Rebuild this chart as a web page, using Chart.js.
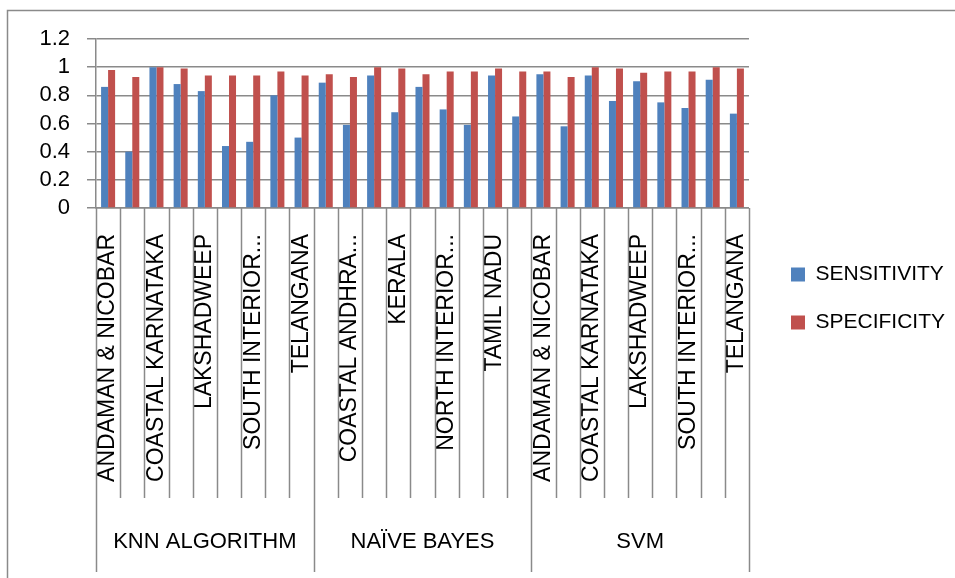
<!DOCTYPE html>
<html>
<head>
<meta charset="utf-8">
<script src="https://cdn.jsdelivr.net/npm/chart.js@4/dist/chart.umd.min.js"></script>
<style>
  html, body { margin: 0; padding: 0; background: #fff; }
  #wrap { width: 955px; height: 578px; position: relative; }
</style>
</head>
<body>
<div id="wrap"><canvas id="chart"></canvas></div>
<script>
// ── Data ────────────────────────────────────────────────────
const algorithms = ['KNN ALGORITHM', 'NAÏVE BAYES', 'SVM'];
const regions = [
    'ANDAMAN & NICOBAR', 'COASTAL ANDHRA PRADESH', 'COASTAL KARNATAKA',
    'KERALA', 'LAKSHADWEEP', 'NORTH INTERIOR KARNATAKA',
    'SOUTH INTERIOR KARNATAKA', 'TAMIL NADU', 'TELANGANA'
];
const sensitivity = [
    0.86, 0.40, 1.00, 0.88, 0.83, 0.44, 0.47, 0.80, 0.50,
    0.89, 0.59, 0.94, 0.68, 0.86, 0.70, 0.59, 0.94, 0.65,
    0.95, 0.58, 0.94, 0.76, 0.90, 0.75, 0.71, 0.91, 0.67
];
const specificity = [
    0.98, 0.93, 1.00, 0.99, 0.94, 0.94, 0.94, 0.97, 0.94,
    0.95, 0.93, 1.00, 0.99, 0.95, 0.97, 0.97, 0.99, 0.97,
    0.97, 0.93, 1.00, 0.99, 0.96, 0.97, 0.97, 1.00, 0.99
];
const yTicks = { min: 0, max: 1.2, step: 0.2 };

const FONT = '"Liberation Sans", Arial, sans-serif';
const GRID = '#8a8a8a';
const GRID_W = 1.5;

// one category per (algorithm, region)
const labels = [];
algorithms.forEach(() => regions.forEach(r => labels.push(r)));

// Excel cuts long labels short
function shortLabel(s) {
    return s.length > 17 ? s.slice(0, 14) + '...' : s;
}

// ── Frame + two-level category axis ─────────────────────────
const multiLevelAxis = {
    id: 'multiLevelAxis',
    afterLayout(chart) {
        // nudge the legend to where Excel puts it, plot area stays put
        const lg = chart.legend;
        if (!lg) return;
        lg.left += 15; lg.right += 15;
        lg.top -= 10; lg.bottom -= 10;
    },
    beforeDraw(chart) {
        const { ctx, width, height } = chart;
        ctx.save();
        ctx.strokeStyle = GRID;
        ctx.lineWidth = GRID_W;
        ctx.beginPath();
        ctx.moveTo(7.5, height);
        ctx.lineTo(7.5, 10.5);
        ctx.lineTo(width, 10.5);
        ctx.stroke();
        ctx.restore();
    },
    afterDraw(chart) {
        const { ctx } = chart;
        const xs = chart.scales.x;
        const n = labels.length;
        const half = (xs.getPixelForValue(1) - xs.getPixelForValue(0)) / 2;
        const catBottom = xs.top + 290;
        const groupBottom = xs.top + 364;

        ctx.save();
        ctx.strokeStyle = GRID;
        ctx.lineWidth = GRID_W;
        for (let i = 0; i <= n; i++) {
            const x = Math.round(i < n ? xs.getPixelForValue(i) - half : xs.getPixelForValue(n - 1) + half) + 0.5;
            ctx.beginPath();
            ctx.moveTo(x, xs.top);
            ctx.lineTo(x, i % regions.length === 0 ? groupBottom : catBottom);
            ctx.stroke();
        }

        ctx.fillStyle = '#000';
        ctx.font = '22px ' + FONT;
        ctx.textAlign = 'center';
        ctx.textBaseline = 'middle';
        algorithms.forEach((name, g) => {
            const a = xs.getPixelForValue(g * regions.length) - half;
            const b = xs.getPixelForValue((g + 1) * regions.length - 1) + half;
            ctx.fillText(name, (a + b) / 2, xs.top + 334);
        });
        ctx.restore();
    }
};

new Chart(document.getElementById('chart'), {
    type: 'bar',
    data: {
        labels,
        datasets: [
            { label: 'SENSITIVITY', data: sensitivity, backgroundColor: '#4F81BD', borderWidth: 0 },
            { label: 'SPECIFICITY', data: specificity, backgroundColor: '#C0504D', borderWidth: 0 }
        ]
    },
    options: {
        responsive: true,
        maintainAspectRatio: false,
        animation: false,
        categoryPercentage: 0.58,
        barPercentage: 1.0,
        layout: { padding: { left: 0, top: 39, right: 15, bottom: 0 } },
        plugins: {
            legend: {
                position: 'right',
                labels: {
                    font: { family: FONT, size: 21 },
                    color: '#000',
                    boxWidth: 14,
                    boxHeight: 14,
                    padding: 27
                }
            },
            tooltip: { enabled: false }
        },
        scales: {
            x: {
                grid: { display: false },
                border: { display: true, color: GRID, width: GRID_W },
                ticks: {
                    autoSkip: false,
                    minRotation: 90,
                    maxRotation: 90,
                    padding: 18,
                    color: '#000',
                    font: { family: FONT, size: 23 },
                    callback: (v, i) => (i % 2 === 0 ? shortLabel(labels[i]) : '')
                },
                afterFit(scale) { scale.height = 370; }
            },
            y: {
                min: yTicks.min,
                max: yTicks.max,
                grid: { color: GRID, lineWidth: GRID_W, drawTicks: true, tickLength: 9 },
                border: { display: true, color: GRID, width: GRID_W },
                ticks: {
                    autoSkip: false,
                    stepSize: yTicks.step,
                    padding: 17,
                    color: '#000',
                    font: { family: FONT, size: 22 },
                    callback: v => String(+v.toFixed(1))
                },
                afterFit(scale) { scale.width = 96; }
            }
        }
    },
    plugins: [multiLevelAxis]
});
</script>
</body>
</html>
